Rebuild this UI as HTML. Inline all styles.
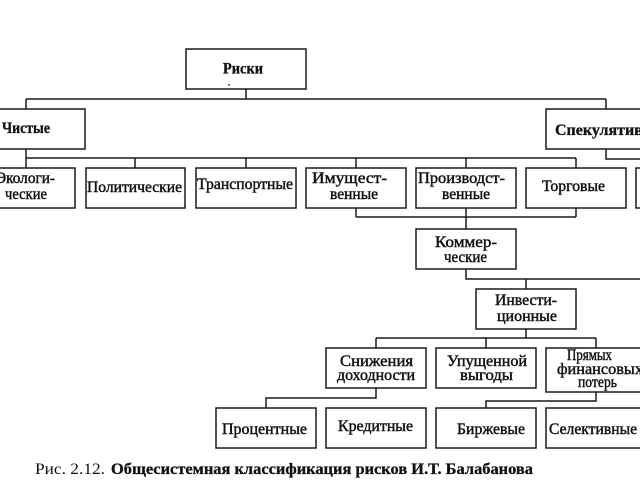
<!DOCTYPE html>
<html><head><meta charset="utf-8"><style>
html,body{margin:0;padding:0;background:#fff;}
svg{display:block;}
text{font-family:"Liberation Serif","DejaVu Serif",serif;fill:#111;}
.r{font-size:16px;stroke:#111;stroke-width:0.45px;}
.b{font-size:16px;font-weight:bold;stroke:#111;stroke-width:0.3px;}
</style></head><body>
<svg width="640" height="480" viewBox="0 0 640 480" xmlns="http://www.w3.org/2000/svg">
<g fill="none" stroke="#1a1a1a" stroke-width="1.5">
<!-- boxes -->
<rect x="186" y="49" width="120" height="40"/>
<rect x="-30" y="109" width="115" height="40"/>
<rect x="546" y="109" width="120" height="40"/>
<rect x="-25" y="168" width="100" height="40"/>
<rect x="86" y="168" width="99" height="40"/>
<rect x="196" y="168" width="100" height="40"/>
<rect x="306" y="168" width="100" height="40"/>
<rect x="416" y="168" width="100" height="40"/>
<rect x="526" y="168" width="100" height="40"/>
<rect x="636" y="168" width="60" height="40"/>
<rect x="416" y="229" width="100" height="40"/>
<rect x="476" y="289" width="100" height="40"/>
<rect x="326" y="348" width="100" height="40"/>
<rect x="436" y="348" width="100" height="40"/>
<rect x="546" y="348" width="104" height="44"/>
<rect x="216" y="408" width="100" height="40"/>
<rect x="326" y="408" width="100" height="40"/>
<rect x="436" y="408" width="100" height="40"/>
<rect x="546" y="408" width="100" height="40"/>
<!-- connectors -->
<path d="M246 89V99M26 99H606M26 99V109M606 99V109"/>
<path d="M26 149V168M26 158H576M135 158V168M246 158V168M356 158V168M466 158V168M576 158V168"/>
<path d="M606 149V159H640"/>
<path d="M356 208V217M466 208V229M576 208V217M356 217H576"/>
<path d="M466 269V279H640M526 279V289"/>
<path d="M526 329V338M376 338H596M376 338V348M486 338V348M596 338V348"/>
<path d="M376 388V398H266V408"/>
<path d="M596 392V401H486V408"/>
</g>
<circle cx="229" cy="85" r="0.9" fill="#222"/>
<text class="b" x="223" y="73.5" textLength="40" lengthAdjust="spacingAndGlyphs">Риски</text>
<text class="b" x="2" y="133" textLength="48" lengthAdjust="spacingAndGlyphs">Чистые</text>
<text class="b" x="555" y="135">Спекулятивные</text>
<text class="r" x="-4" y="183" textLength="59" lengthAdjust="spacingAndGlyphs">Экологи-</text>
<text class="r" x="5" y="199" textLength="42" lengthAdjust="spacingAndGlyphs">ческие</text>
<text class="r" x="87" y="192" textLength="95" lengthAdjust="spacingAndGlyphs">Политические</text>
<text class="r" x="197" y="189" textLength="96" lengthAdjust="spacingAndGlyphs">Транспортные</text>
<text class="r" x="312" y="183" textLength="75" lengthAdjust="spacingAndGlyphs">Имущест-</text>
<text class="r" x="330" y="199" textLength="48" lengthAdjust="spacingAndGlyphs">венные</text>
<text class="r" x="418" y="183" textLength="87" lengthAdjust="spacingAndGlyphs">Производст-</text>
<text class="r" x="442" y="199" textLength="48" lengthAdjust="spacingAndGlyphs">венные</text>
<text class="r" x="542" y="191" textLength="63" lengthAdjust="spacingAndGlyphs">Торговые</text>
<text class="r" x="435" y="247" textLength="62" lengthAdjust="spacingAndGlyphs">Коммер-</text>
<text class="r" x="444" y="262" textLength="43" lengthAdjust="spacingAndGlyphs">ческие</text>
<text class="r" x="495" y="305" textLength="62" lengthAdjust="spacingAndGlyphs">Инвести-</text>
<text class="r" x="497" y="321" textLength="60" lengthAdjust="spacingAndGlyphs">ционные</text>
<text class="r" x="340" y="366" textLength="73" lengthAdjust="spacingAndGlyphs">Снижения</text>
<text class="r" x="337" y="380" textLength="78" lengthAdjust="spacingAndGlyphs">доходности</text>
<text class="r" x="447" y="366" textLength="80" lengthAdjust="spacingAndGlyphs">Упущенной</text>
<text class="r" x="460" y="380" textLength="53" lengthAdjust="spacingAndGlyphs">выгоды</text>
<text class="r" x="567" y="360" textLength="45" lengthAdjust="spacingAndGlyphs">Прямых</text>
<text class="r" x="557" y="374" textLength="86" lengthAdjust="spacingAndGlyphs">финансовых</text>
<text class="r" x="578" y="387" textLength="39" lengthAdjust="spacingAndGlyphs">потерь</text>
<text class="r" x="222" y="434" textLength="85" lengthAdjust="spacingAndGlyphs">Процентные</text>
<text class="r" x="338" y="431" textLength="75" lengthAdjust="spacingAndGlyphs">Кредитные</text>
<text class="r" x="457" y="434" textLength="68" lengthAdjust="spacingAndGlyphs">Биржевые</text>
<text class="r" x="549" y="434" textLength="88" lengthAdjust="spacingAndGlyphs">Селективные</text>
<text x="35" y="474" style="font-size:16px" textLength="70" lengthAdjust="spacingAndGlyphs">Рис. 2.12.</text>
<text x="111" y="474" style="font-size:16px;font-weight:bold;stroke:#111;stroke-width:0.3px" textLength="422" lengthAdjust="spacingAndGlyphs">Общесистемная классификация рисков И.Т. Балабанова</text>
</svg>
</body></html>
